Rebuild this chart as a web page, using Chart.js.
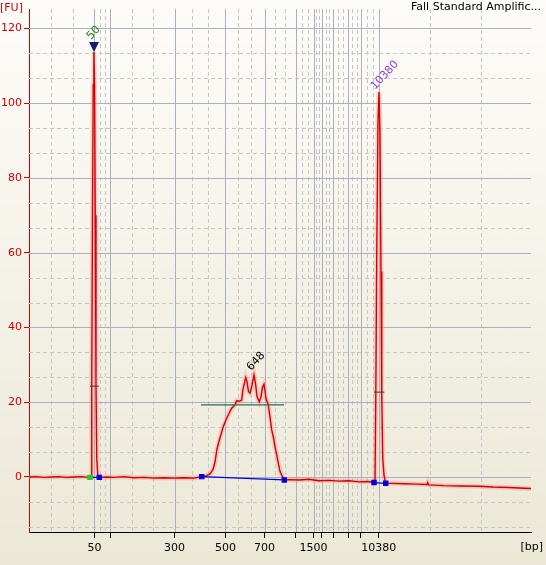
<!DOCTYPE html>
<html>
<head>
<meta charset="utf-8">
<script src="https://cdn.jsdelivr.net/npm/chart.js@4"></script>
<style>
html, body { margin: 0; padding: 0; }
body { width: 546px; height: 565px; overflow: hidden; background: linear-gradient(#fdfcf9, #ebe8d6); }
</style>
</head>
<body>
<canvas id="ep" width="546" height="565"></canvas>
<script>
// electropherogram trace: migration time (s) and fluorescence (FU)
const timeS = [20.0, 21.5, 23.0, 24.5, 26.0, 27.5, 29.0, 30.5, 31.8, 32.45,
  32.55, 32.7, 32.85, 32.98, 33.12, 33.25, 33.4, 33.55, 33.75, 34.06,
  35.5, 37.0, 39.0, 41.0, 43.0, 45.0, 47.0, 49.0, 51.0, 53.0,
  54.54, 55.4, 56.2, 56.8, 57.2, 57.6, 58.2, 58.86, 59.54, 60.0,
  60.54, 61.2, 61.54, 62.2, 62.54, 62.8, 63.34, 63.6, 63.9, 64.2,
  64.6, 65.0, 65.3, 65.6, 66.06, 66.4, 66.7, 67.0, 67.2, 67.4,
  67.86, 68.2, 68.54, 68.9, 69.2, 69.6, 69.86, 70.2, 70.54, 71.06,
  72.0, 74.0, 76.0, 78.0, 80.0, 82.0, 84.0, 86.0, 87.5, 89.2,
  89.35, 89.55, 89.8, 90.0, 90.2, 90.4, 90.55, 90.75, 91.0, 91.34,
  92.5, 95.0, 97.5, 99.6, 99.75, 99.9, 103.0, 106.0, 110.0, 112.8,
  116.0, 119.0, 120.4];
const fuTrace = [0.0, 0.1, -0.1, 0.0, 0.1, -0.1, 0.0, 0.1, -0.1, 0.0,
  25, 70, 105, 113.7, 105, 70, 25, 5, 0.5, -0.1,
  0.0, -0.1, 0.1, -0.2, -0.1, -0.3, -0.2, -0.3, -0.2, -0.3,
  0.1, 0.3, 0.8, 2.0, 4.0, 7.5, 10.5, 13.5, 15.7, 17.0,
  18.4, 19.3, 20.4, 20.3, 20.6, 23.5, 26.6, 25.5, 22.8, 22.4,
  24.5, 27.3, 25.0, 21.5, 20.1, 21.5, 24.0, 24.8, 23.0, 21.0,
  19.3, 16.0, 12.6, 10.5, 8.1, 5.5, 3.7, 1.5, 0.5, -0.8,
  -0.7, -0.8, -0.6, -1.0, -0.9, -1.1, -1.0, -1.3, -1.2, -1.4,
  20, 60, 95, 103, 92, 55, 22, 5, 0.5, -1.7,
  -1.7, -1.8, -1.9, -2.0, -1.5, -2.1, -2.3, -2.4, -2.5, -2.7,
  -2.8, -3.0, -3.1];

// ladder sizes shown on the x axis
const ladderTimes = [33.08, 36.3, 49.12, 59.28, 67.1, 73.3, 76.92, 78.52, 80.88, 83.88, 86.32, 89.94];
const ladderLabels = ['50', '', '300', '500', '700', '', '1500', '', '', '', '', '10380'];
const yTicks = [0, 20, 40, 60, 80, 100, 120];

// peak calls
const peakTimes = [33.0, 65.0, 90.0];
const peakFU = [113.7, 27.3, 103];
const peakNames = ['50', '648', '10380'];

// baseline start/end markers (pairs)
const markTimes = [32.2, 34.06, 54.54, 71.06, 89.0, 91.34];
const markFU = [-0.1, -0.1, 0.1, -0.8, -1.5, -1.7];

// smear region level and half-height bars
const regionTimes = [54.4, 71.0];
const regionFU = 19.3;
const halfTimes = [[32.2, 34.0], [89.0, 91.06]];
const halfFU = [24.3, 22.7];

const trace = timeS.map((t, i) => ({ x: t, y: fuTrace[i] }));

const baseLines = [];
for (let i = 0; i < markTimes.length; i += 2) {
  baseLines.push({ x: markTimes[i], y: markFU[i] }, { x: markTimes[i + 1], y: markFU[i + 1] }, { x: markTimes[i + 1], y: null });
}
const halfBars = [];
halfTimes.forEach((h, i) => {
  halfBars.push({ x: h[0], y: halfFU[i] }, { x: h[1], y: halfFU[i] }, { x: h[1], y: null });
});

const RED = '#d40000';

const gridPlugin = {
  id: 'epGrid',
  beforeDatasetsDraw(chart) {
    const { ctx, chartArea: a, scales: { x, y } } = chart;
    const px = v => Math.round(x.getPixelForValue(v)) + 0.5;
    const py = v => Math.round(y.getPixelForValue(v)) + 0.5;
    const minorX = [];
    const first = ladderTimes[0], last = ladderTimes[ladderTimes.length - 1];
    minorX.push(first - 4.38, first - 8.76, last + 10.24, last + 20.48);
    for (let i = 0; i < ladderTimes.length - 1; i++) {
      const d = (ladderTimes[i + 1] - ladderTimes[i]) / 3;
      minorX.push(ladderTimes[i] + d, ladderTimes[i] + 2 * d);
    }
    const minorY = [];
    for (let k = -2; k <= 18; k++) {
      if (k % 3 !== 0) minorY.push(k * 20 / 3);
    }
    ctx.save();
    ctx.lineWidth = 1;
    ctx.setLineDash([4, 3]);
    ctx.strokeStyle = '#c6c6c6';
    ctx.beginPath();
    minorX.forEach(v => { const p = px(v); if (p > a.left && p < a.right) { ctx.moveTo(p, a.top); ctx.lineTo(p, a.bottom); } });
    minorY.forEach(v => { const p = py(v); if (p > a.top && p < a.bottom) { ctx.moveTo(a.left, p); ctx.lineTo(a.right, p); } });
    ctx.stroke();
    ctx.setLineDash([]);
    ctx.strokeStyle = '#a9b0bf';
    ctx.beginPath();
    ladderTimes.forEach(v => { const p = px(v); ctx.moveTo(p, a.top); ctx.lineTo(p, a.bottom); });
    yTicks.forEach(v => { const p = py(v); ctx.moveTo(a.left, p); ctx.lineTo(a.right, p); });
    ctx.stroke();
    ctx.restore();
  },
  afterDatasetsDraw(chart) {
    const { ctx, scales: { x, y } } = chart;
    ctx.save();
    // lower marker triangle
    const tx = x.getPixelForValue(peakTimes[0]), ty = y.getPixelForValue(peakFU[0]);
    ctx.fillStyle = '#1b1b6b';
    ctx.beginPath();
    ctx.moveTo(tx - 5, ty - 10);
    ctx.lineTo(tx + 5, ty - 10);
    ctx.lineTo(tx, ty);
    ctx.closePath();
    ctx.fill();
    const colors = ['#1e8a1e', '#000000', '#8a3ccf'];
    const offs = [[-3, -12], [-3, -4], [-4, -2]];
    ctx.font = '11px "DejaVu Sans"';
    ctx.textAlign = 'left';
    ctx.textBaseline = 'alphabetic';
    peakNames.forEach((n, i) => {
      const lx = x.getPixelForValue(peakTimes[i]) + offs[i][0];
      const ly = y.getPixelForValue(peakFU[i]) + offs[i][1];
      ctx.save();
      ctx.translate(lx, ly);
      ctx.rotate(-47 * Math.PI / 180);
      ctx.fillStyle = colors[i];
      ctx.fillText(n, 0, 0);
      ctx.restore();
    });
    ctx.restore();
  },
  afterDraw(chart) {
    const { ctx } = chart;
    ctx.save();
    ctx.font = '11px "DejaVu Sans"';
    ctx.textBaseline = 'middle';
    ctx.fillStyle = RED;
    ctx.textAlign = 'left';
    ctx.fillText('[FU]', 0, 8);
    ctx.fillStyle = '#000';
    ctx.textAlign = 'right';
    ctx.fillText('[bp]', 543, 547);
    ctx.fillText('Fall Standard Amplific...', 541, 7);
    ctx.restore();
  }
};

new Chart(document.getElementById('ep'), {
  type: 'line',
  data: {
    datasets: [
      { data: baseLines, borderColor: '#0000e0', borderWidth: 1.2, spanGaps: false,
        pointStyle: 'rect', pointRadius: 3, pointHoverRadius: 3,
        pointBackgroundColor: ['#22cc22', '#0000e0', null, '#0000e0', '#0000e0', null, '#0000e0', '#0000e0', null],
        pointBorderColor: ['#22cc22', '#0000e0', null, '#0000e0', '#0000e0', null, '#0000e0', '#0000e0', null],
        order: 0 },
      { data: halfBars, borderColor: '#33402f', borderWidth: 1, pointRadius: 0, spanGaps: false, order: 1 },
      { data: regionTimes.map(t => ({ x: t, y: regionFU })), borderColor: '#2d6e48', borderWidth: 1.2, pointRadius: 0, order: 1 },
      { data: trace, borderColor: RED, borderWidth: 1.4, pointRadius: 0, tension: 0, order: 2 },
      { data: trace, borderColor: 'rgba(255,140,140,0.35)', borderWidth: 5, pointRadius: 0, tension: 0, order: 3 }
    ]
  },
  options: {
    responsive: false,
    animation: false,
    devicePixelRatio: 1,
    layout: { padding: { top: 9, right: 15, left: 0, bottom: 0 } },
    plugins: { legend: { display: false }, tooltip: { enabled: false } },
    scales: {
      x: {
        type: 'linear', min: 20, max: 120.4,
        afterFit: s => { s.height = 33; },
        afterBuildTicks: s => { s.ticks = ladderTimes.map(v => ({ value: v })); },
        ticks: {
          autoSkip: false, maxRotation: 0, padding: 4, color: '#000',
          font: { family: 'DejaVu Sans', size: 11 },
          callback: (v, i) => ladderLabels[i]
        },
        grid: { drawOnChartArea: false, tickLength: 6, tickColor: '#000' },
        border: { color: '#000', width: 1 }
      },
      y: {
        min: -14.72, max: 125.2,
        afterFit: s => { s.width = 29; },
        afterBuildTicks: s => { s.ticks = yTicks.map(v => ({ value: v })); },
        ticks: { padding: 2, color: RED, font: { family: 'DejaVu Sans', size: 11 } },
        grid: { drawOnChartArea: false, tickLength: 5, tickColor: RED },
        border: { color: RED, width: 1 }
      }
    }
  },
  plugins: [gridPlugin]
});
</script>
</body>
</html>
